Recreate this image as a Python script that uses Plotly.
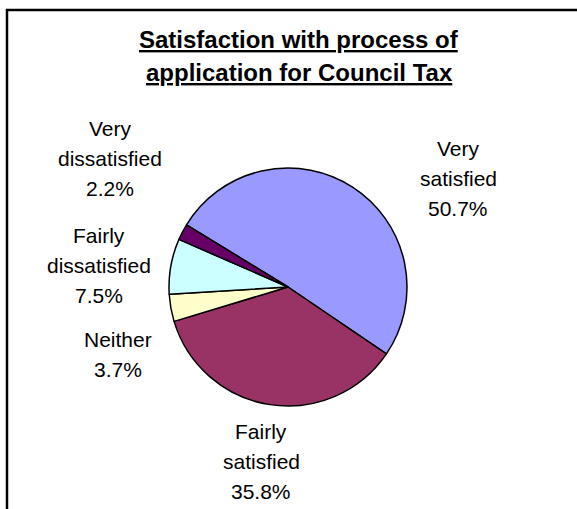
import plotly.graph_objects as go

# Survey results: satisfaction with the Council Tax application process
categories = ["Very satisfied", "Fairly satisfied", "Neither",
              "Fairly dissatisfied", "Very dissatisfied"]
percentages = [50.7, 35.8, 3.7, 7.5, 2.2]
slice_colors = ["#9999FF", "#993366", "#FFFFCC", "#CCFFFF", "#660066"]
title_lines = ["Satisfaction with process of", "application for Council Tax"]

W, H = 577, 509


def px_x(x):
    return x / W


def px_y(y):
    return 1 - y / H


# Pie placement in pixels (centre and radius)
cx, cy, r = 288, 287, 119

fig = go.Figure(go.Pie(
    labels=categories,
    values=percentages,
    marker=dict(colors=slice_colors, line=dict(color="black", width=1.5)),
    sort=False,
    direction="clockwise",
    rotation=-58.5,
    textinfo="none",
    hoverinfo="none",
    showlegend=False,
    domain=dict(x=[px_x(cx - r), px_x(cx + r)],
                y=[px_y(cy + r), px_y(cy - r)]),
))

annotations = []

# Two-line underlined bold title
title_size = 24
for line, baseline in zip(title_lines, [48, 81]):
    annotations.append(dict(
        text=f"<b><u>{line}</u></b>",
        x=px_x(299), y=px_y(baseline - 0.35 * title_size),
        xref="paper", yref="paper", xanchor="center", yanchor="middle",
        showarrow=False,
        font=dict(family="Liberation Sans, Arial, sans-serif",
                  size=title_size, color="black"),
    ))

# Category labels: name split over lines, then the percentage
label_size = 21
line_gap = 30
label_anchor = {                      # centre x, first baseline (pixels)
    "Very satisfied": (458, 156),
    "Fairly satisfied": (261, 439),
    "Neither": (118, 347),
    "Fairly dissatisfied": (99, 243),
    "Very dissatisfied": (110, 136),
}
for cat, pct in zip(categories, percentages):
    lines = cat.split(" ") + [f"{pct:.1f}%"]
    x0, b0 = label_anchor[cat]
    for i, line in enumerate(lines):
        annotations.append(dict(
            text=line,
            x=px_x(x0), y=px_y(b0 + i * line_gap - 0.35 * label_size),
            xref="paper", yref="paper", xanchor="center", yanchor="middle",
            showarrow=False,
            font=dict(family="Liberation Sans, Arial, sans-serif",
                      size=label_size, color="black"),
        ))

fig.update_layout(
    width=W, height=H,
    margin=dict(l=0, r=0, t=0, b=0),
    paper_bgcolor="white",
    plot_bgcolor="white",
    annotations=annotations,
    shapes=[dict(
        type="rect", xref="paper", yref="paper",
        x0=px_x(7), x1=1.05, y0=-0.05, y1=px_y(10),
        line=dict(color="black", width=2.5),
        fillcolor="rgba(0,0,0,0)",
    )],
)

fig.write_html("out.html")
